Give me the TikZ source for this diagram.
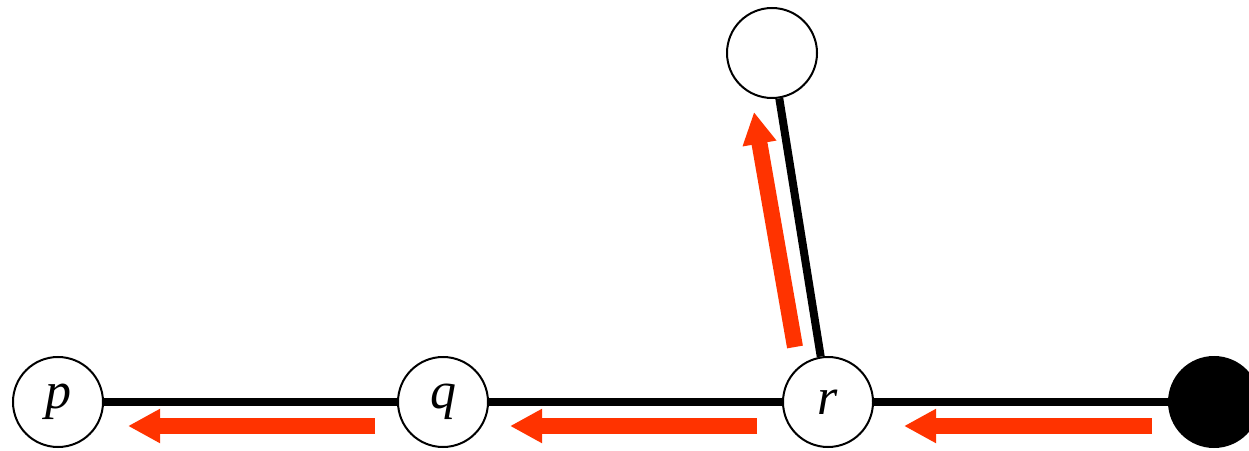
\documentclass[tikz,border=0pt]{standalone}
\usepackage{fontspec}
\setmainfont{Liberation Serif}
\usetikzlibrary{arrows.meta}
\definecolor{flowred}{HTML}{FF3300}
\begin{document}
\begin{tikzpicture}[x=1pt,y=1pt,
  vert/.style={circle,draw=black,line width=2pt,fill=white,minimum size=90pt,inner sep=0pt,
    font=\fontsize{52}{52}\selectfont\itshape},
  blackvert/.style={vert,fill=black},
  edge/.style={line width=8pt,black},
  flow/.style={line width=16pt,flowred,-{Triangle[length=32pt,width=32pt]}}]
\useasboundingbox (0,0) rectangle (1249,450);
\begin{scope}
\clip (0,0) rectangle (1249,450);
\node[vert] (p) at (58,48) {p};
\node[vert] (q) at (443,48) {q};
\node[vert] (r) at (828,48) {r};
\node[blackvert] (s) at (1214,48) {};
\node[vert] (t) at (772,397) {};
\draw[edge] (p) -- (q);
\draw[edge] (q) -- (r);
\draw[edge] (r) -- (s);
\draw[edge] (r) -- (t);
\coordinate (a1s) at (375,24); \coordinate (a1e) at (128,24);
\coordinate (a2s) at (757,24); \coordinate (a2e) at (510,24);
\coordinate (a3s) at (1152,24); \coordinate (a3e) at (904,24);
\coordinate (a4s) at (795,103); \coordinate (a4e) at (754,338);
\draw[flow] (a1s) -- (a1e);
\draw[flow] (a2s) -- (a2e);
\draw[flow] (a3s) -- (a3e);
\draw[flow] (a4s) -- (a4e);
\end{scope}
\end{tikzpicture}
\end{document}
